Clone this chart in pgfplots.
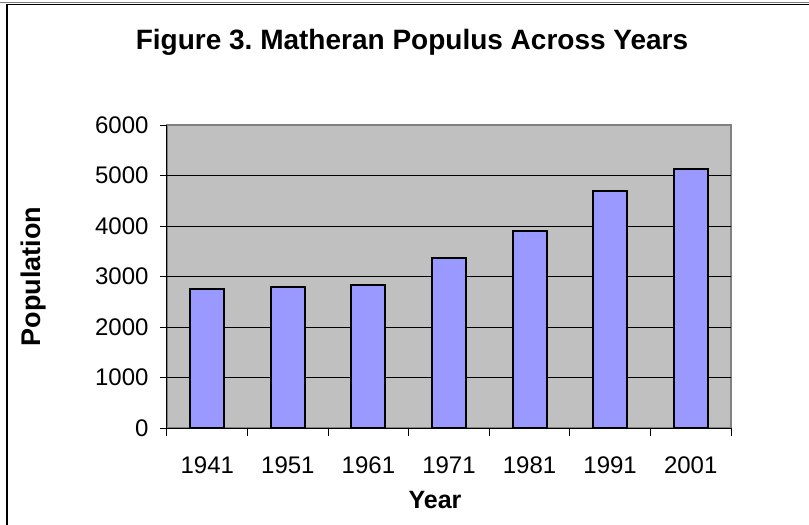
\documentclass[border=0pt]{standalone}
\usepackage{pgfplots}
\pgfplotsset{compat=1.18}
\usepackage{fontspec}
\setmainfont{Liberation Sans}
\frenchspacing
\definecolor{plotbg}{RGB}{192,192,192}
\definecolor{barfill}{RGB}{153,153,255}
\definecolor{frameg}{RGB}{128,128,128}
\begin{document}
\begin{tikzpicture}
\useasboundingbox (-167bp,-97bp) rectangle (642bp,428bp);
\draw[frameg, line width=1bp] (-167bp,425bp) -- (642bp,425bp);
\draw[black, line width=1.3bp] (-160bp,-97bp) -- (-160bp,423.5bp) -- (642bp,423.5bp);
\begin{axis}[
  at={(0,0)}, anchor=south west,
  scale only axis, width=564bp, height=303bp,
  xmin=-0.5, xmax=6.5, ymin=0, ymax=6000,
  axis background/.style={fill=plotbg, draw=frameg, line width=1.5bp},
  axis lines=left, axis line style={-, black, line width=1bp},
  tick align=outside,
  major tick length=7bp, minor tick length=8bp,
  ytick={0,1000,...,6000},
  extra y ticks={1000,2000,3000,4000,5000},
  extra y tick labels={},
  extra y tick style={grid=major, major tick length=0pt},
  grid style={black, line width=1bp},
  ytick style={black, line width=1bp},
  xtick={0,...,6},
  xticklabels={1941,1951,1961,1971,1981,1991,2001},
  major x tick style={draw=none},
  minor xtick={-0.5,0.5,...,6.5},
  minor x tick style={black, line width=1bp},
  /pgf/number format/assume math mode=true,
  /pgf/number format/1000 sep={},
  ticklabel style={font=\fontsize{24bp}{24bp}\selectfont},
  xticklabel style={yshift=-18bp},
  yticklabel style={xshift=-8bp},
]
\addplot[ybar, bar width=34bp, fill=barfill, draw=black, line width=2bp]
  coordinates {(0,2745) (1,2790) (2,2830) (3,3370) (4,3900) (5,4700) (6,5130)};
\end{axis}
\node[anchor=base, font=\bfseries\fontsize{28bp}{28bp}\selectfont] at (245bp,378.7bp) {Figure 3. Matheran Populus Across Years};
\node[anchor=base, font=\bfseries\fontsize{25bp}{25bp}\selectfont] at (268bp,-80bp) {Year};
\node[anchor=base, rotate=90, font=\bfseries\fontsize{27bp}{27bp}\selectfont] at (-126bp,151.5bp) {Population};
\end{tikzpicture}
\end{document}
